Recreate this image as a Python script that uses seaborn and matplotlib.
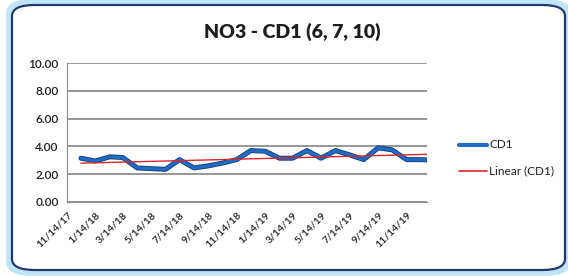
import numpy as np
import pandas as pd
import matplotlib
matplotlib.use("Agg")
import matplotlib.pyplot as plt
import matplotlib.dates as mdates
from matplotlib.patches import FancyBboxPatch
import seaborn as sns

# monthly sampling dates and NO3 readings
dates = pd.date_range("2017-11-14", periods=26, freq="MS") + pd.Timedelta(days=13)
cd1 = [3.15, 2.95, 3.25, 3.2, 2.45, 2.4, 2.35, 3.05, 2.45, 2.6, 2.8, 3.05, 3.7,
       3.65, 3.15, 3.15, 3.7, 3.15, 3.7, 3.4, 3.05, 3.9, 3.75, 3.05, 3.05, 3.0]
tick_dates = pd.date_range("2017-11-01", "2019-11-30", freq="2MS") + pd.Timedelta(days=13)
tick_labels = [f"{d.month}/{d.day}/{d.strftime('%y')}" for d in tick_dates]
title = "NO3 - CD1 (6, 7, 10)"

df = pd.DataFrame({"date": dates, "CD1": cd1})
# linear trendline, like Excel's "Linear (CD1)"
xnum = mdates.date2num(df["date"])
slope, icpt = np.polyfit(xnum, df["CD1"], 1)
df["trend"] = slope * xnum + icpt

sns.set_style("white")
plt.rcParams["font.family"] = ["Lato", "DejaVu Sans"]

fig = plt.figure(figsize=(5.68, 2.76), dpi=100)

# rounded chart frame with a soft blue glow
W, H = 568, 276
glow = FancyBboxPatch((9 / W, 3 / H), 559 / W, 271 / H,
                      boxstyle="round,pad=0,rounding_size=0.04",
                      transform=fig.transFigure, facecolor="none",
                      edgecolor="#bfe3f7", lw=4, zorder=0)
frame = FancyBboxPatch((12 / W, 6 / H), 553 / W, 265 / H,
                       boxstyle="round,pad=0,rounding_size=0.04",
                       transform=fig.transFigure, facecolor="white",
                       edgecolor="#1f3b6e", lw=1.6, zorder=1)
fig.patches.extend([glow, frame])

ax = fig.add_axes([67 / W, 1 - 202 / H, 360 / W, 139 / H])
ax.set_facecolor("none")
ax.set_zorder(2)

sns.lineplot(data=df, x="date", y="CD1", ax=ax, color="#1b3f78", lw=3.6,
             legend=False, zorder=3)
sns.lineplot(data=df, x="date", y="CD1", ax=ax, color="#1f6cc4", lw=2.3,
             legend=False, zorder=4)
sns.lineplot(data=df, x="date", y="trend", ax=ax, color="#d9262b", lw=1.0,
             legend=False, zorder=5)

ax.set_xlim(dates[0] - pd.Timedelta(days=4), pd.Timestamp("2019-12-28"))
ax.set_ylim(0, 10)
ax.set_yticks(np.arange(0, 11, 2))
ax.set_yticklabels([f"{v:.2f}" for v in np.arange(0, 11, 2)], fontsize=8.5,
                   color="#1e1e1e", fontweight="semibold")
ax.set_xticks(tick_dates)
ax.set_xticklabels(tick_labels, rotation=45, ha="right", rotation_mode="anchor",
                   fontsize=7.5, color="#222222", fontweight="semibold")
ax.set_xlabel("")
ax.set_ylabel("")
ax.grid(axis="y", color="#7a7a7a", lw=1.1)
ax.grid(axis="x", visible=False)
for s in ["top", "right"]:
    ax.spines[s].set_visible(False)
ax.spines["left"].set_color("#8a8a8a")
ax.spines["bottom"].set_color("#8a8a8a")
ax.tick_params(axis="both", which="major", length=4, width=0.8, color="#8a8a8a",
               direction="out", pad=2)

# legend drawn by hand on the right
fig.lines.append(plt.Line2D([459 / W, 487 / W], [1 - 145 / H] * 2,
                            transform=fig.transFigure, color="#1f6cc4", lw=3))
fig.text(489 / W, 1 - 145 / H, "CD1", fontsize=8.5, va="center", color="#1e1e1e")
fig.lines.append(plt.Line2D([459 / W, 487 / W], [1 - 171 / H] * 2,
                            transform=fig.transFigure, color="#d9262b", lw=1.2))
fig.text(489 / W, 1 - 171 / H, "Linear (CD1)", fontsize=8.5, va="center",
         color="#1e1e1e")

fig.text(292 / W, 1 - 32 / H, title, fontsize=14, fontweight="heavy",
         ha="center", va="center", color="#1e1e1e")

fig.savefig("out.png", dpi=100)
